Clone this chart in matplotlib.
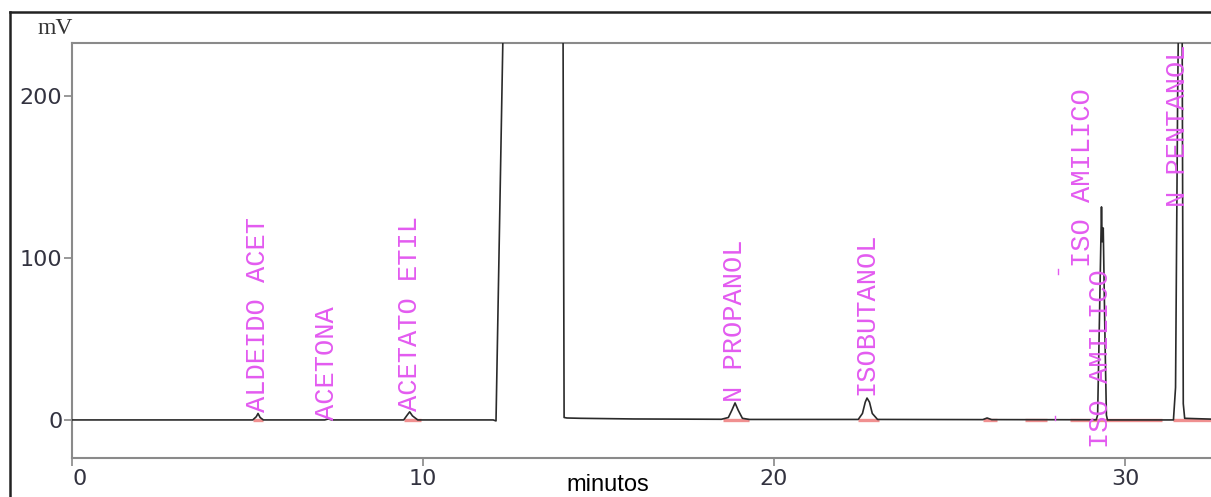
import matplotlib
matplotlib.use("Agg")
import matplotlib.pyplot as plt
from matplotlib.lines import Line2D

# ---- data ----
trace_t = [0.0, 2.0, 4.8, 5.15, 5.25, 5.3, 5.36, 5.45, 7.2, 7.3, 7.4, 9.45, 9.55, 9.62, 9.7, 9.85,
           12.0, 12.08, 12.28, 12.4, 13.9, 13.99, 14.02, 14.1, 14.5, 16.0, 18.5, 18.7, 18.8, 18.89,
           18.98, 19.1, 19.3, 22.4, 22.52, 22.6, 22.65, 22.72, 22.8, 22.95, 25.95, 26.07, 26.2,
           29.18, 29.22, 29.27, 29.33, 29.35, 29.38, 29.43, 29.47, 29.5, 31.38, 31.44, 31.5, 31.55,
           31.62, 31.66, 31.7, 32.45]
trace_mv = [0.0, 0.0, 0.0, 0.0, 2.0, 4.0, 1.5, 0.0, 0.0, 0.6, 0.0, 0.0, 3.0, 5.0, 2.5, 0.0,
            0.0, -0.6, 240.0, 300.0, 300.0, 240.0, 1.5, 1.2, 1.0, 0.6, 0.4, 1.5, 6.0, 10.5,
            6.0, 1.0, 0.3, 0.3, 4.0, 11.0, 13.5, 11.0, 4.0, 0.3, 0.2, 1.2, 0.2,
            0.1, 3.0, 60.0, 131.5, 110.0, 118.5, 50.0, 3.0, 0.0, 0.0, 20.0, 200.0, 300.0,
            300.0, 10.0, 1.0, 0.5]

peak_labels = ["ALDEIDO ACET", "ACETONA", "ACETATO ETIL", "N PROPANOL", "ISOBUTANOL",
               "ISO AMILICO", "ISO AMILICO", "N PENTANOL"]
label_t = [5.30, 7.26, 9.63, 18.89, 22.62, 28.79, 29.32, 31.51]
label_mv = [4.9, 0.0, 5.6, 11.1, 15.5, 94.6, -17.3, 131.7]

baseline_start = [5.15, 9.45, 18.55, 22.4, 25.95, 27.15, 28.43, 31.38]
baseline_end = [5.45, 9.95, 19.3, 23.0, 26.35, 27.78, 31.05, 32.45]

mark_t = [28.0, 28.09]
mark_mv = [1.2, 91.5]

x_ticks = [0, 10, 20, 30]
y_ticks = [0, 100, 200]

# ---- figure ----
W, H = 1211, 497
fig = plt.figure(figsize=(W / 100, H / 100), dpi=100)
ax = fig.add_axes([72 / W, 1 - 458 / H, 1 - 72 / W, (458 - 43) / H])

ax.set_xlim(0, 32.45)
ax.set_ylim(-23.5, 232.7)

# integration baselines (pink)
for s, e in zip(baseline_start, baseline_end):
    ax.plot([s, e], [0, 0], color="#f09090", lw=2.4, solid_capstyle="butt", zorder=2)

ax.plot(trace_t, trace_mv, color="#2a2a2a", lw=1.2, zorder=3)

for txt, t, v in zip(peak_labels, label_t, label_mv):
    ax.text(t, v, txt, rotation=90, ha="center", va="bottom", color="#e35bf0",
            fontsize=19.5, family="Liberation Mono", clip_on=True, zorder=4)

# tiny magenta marks
for t, v in zip(mark_t, mark_mv):
    ax.plot([t, t], [v - 1.5, v + 1.5], color="#e35bf0", lw=1.0, zorder=4)

ax.set_xticks(x_ticks)
ax.set_yticks(y_ticks)
ax.tick_params(axis="both", colors="#888888", length=6, width=1.2, labelsize=16,
               labelcolor="#333340")
ax.tick_params(axis="x", pad=2)
ax.tick_params(axis="y", pad=1)
for lab in ax.get_xticklabels():
    lab.set_family("DejaVu Sans")
for lab in ax.get_yticklabels():
    lab.set_family("DejaVu Sans")
ax.get_xticklabels()[0].set_horizontalalignment("left")

for side in ["left", "top", "bottom"]:
    ax.spines[side].set_color("#8a8a8a")
    ax.spines[side].set_linewidth(1.5)
ax.spines["right"].set_visible(False)

fig.text(38 / W, 1 - 28 / H, "mV", fontsize=17, family="Liberation Serif", color="#333333",
         ha="left", va="center")
fig.text(608 / W, 1 - 485 / H, "minutos", fontsize=17, family="Liberation Sans", color="black",
         ha="center", va="center")

# outer frame (partially visible)
fig.add_artist(Line2D([9.5 / W, 9.5 / W], [0, 1 - 12 / H], color="#222222", lw=1.8,
                      transform=fig.transFigure))
fig.add_artist(Line2D([9.5 / W, 1.0], [1 - 12 / H, 1 - 12 / H], color="#222222", lw=1.8,
                      transform=fig.transFigure))

fig.savefig("out.png", dpi=100)
